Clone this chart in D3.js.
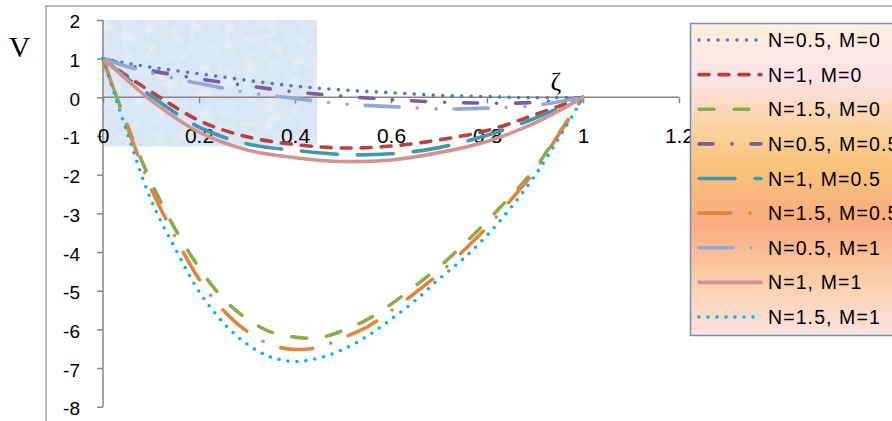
<!DOCTYPE html>
<html>
<head>
<meta charset="utf-8">
<script src="https://cdn.jsdelivr.net/npm/d3@7.9.0/dist/d3.min.js"></script>
<style>
  body { margin: 0; background: #fff; }
  svg { display: block; }
</style>
</head>
<body>
<div id="chart"></div>
<script>
// zeta positions used for the N=0.5 and N=1 curves
const zetaA = [0, 0.05, 0.1, 0.2, 0.3, 0.4, 0.5, 0.6, 0.7, 0.8, 0.9, 1];
// zeta positions used for the N=1.5 curves
const zetaB = [0, 0.05, 0.1, 0.15, 0.2, 0.25, 0.3, 0.35, 0.4, 0.45, 0.5,
               0.55, 0.6, 0.65, 0.7, 0.75, 0.8, 0.85, 0.9, 0.95, 1];

const vN05M0  = [1, 0.88, 0.78, 0.61, 0.44, 0.29, 0.19, 0.12, 0.05, 0.02, -0.01, 0];
const vN1M0   = [1, 0.55, 0.15, -0.6, -1.02, -1.22, -1.31, -1.26, -1.1, -0.86, -0.45, 0];
const vN15M0  = [1, -0.7, -2.18, -3.4, -4.4, -5.2, -5.73, -6.07, -6.2, -6.22, -6.03,
                 -5.75, -5.35, -4.88, -4.39, -3.82, -3.2, -2.55, -1.84, -0.92, 0];
const vN05M05 = [1, 0.84, 0.69, 0.48, 0.3, 0.14, 0.03, -0.06, -0.12, -0.15, -0.13, 0];
const vN1M05  = [1, 0.5, 0.04, -0.77, -1.2, -1.37, -1.48, -1.46, -1.3, -0.98, -0.54, 0];
const vN15M05 = [1, -0.75, -2.35, -3.6, -4.7, -5.5, -6.05, -6.4, -6.52, -6.46, -6.22,
                 -5.94, -5.52, -5.06, -4.56, -3.98, -3.36, -2.65, -1.9, -0.95, 0];
const vN05M1  = [1, 0.8, 0.63, 0.36, 0.13, -0.03, -0.17, -0.24, -0.3, -0.28, -0.21, 0];
const vN1M1   = [1, 0.45, -0.08, -0.9, -1.36, -1.56, -1.66, -1.62, -1.43, -1.14, -0.66, 0];
const vN15M1  = [1, -0.9, -2.65, -3.9, -5.02, -5.82, -6.38, -6.72, -6.83, -6.74, -6.52,
                 -6.18, -5.74, -5.26, -4.7, -4.18, -3.57, -2.85, -2.02, -1.05, 0];

const seriesNames = ["N=0.5, M=0", "N=1, M=0", "N=1.5, M=0",
                     "N=0.5, M=0.5", "N=1, M=0.5", "N=1.5, M=0.5",
                     "N=0.5, M=1", "N=1, M=1", "N=1.5, M=1"];

const xTicks = [0, 0.2, 0.4, 0.6, 0.8, 1, 1.2];
const yTicks = [2, 1, 0, -1, -2, -3, -4, -5, -6, -7, -8];

const series = [
  { name: seriesNames[0], x: zetaA, v: vN05M0,  color: "#4a7dbd", dash: "0,9.5" },
  { name: seriesNames[1], x: zetaA, v: vN1M0,   color: "#b8403d", dash: "10,10" },
  { name: seriesNames[2], x: zetaB, v: vN15M0,  color: "#8cac4c", dash: "15,20" },
  { name: seriesNames[3], x: zetaA, v: vN05M05, color: "#7a5c9e", dash: "14,19,0,19" },
  { name: seriesNames[4], x: zetaA, v: vN1M05,  color: "#4097b0", dash: "36,20" },
  { name: seriesNames[5], x: zetaB, v: vN15M05, color: "#e2843c", dash: "32,19,0,19" },
  { name: seriesNames[6], x: zetaA, v: vN05M1,  color: "#90aad4", dash: "34,18,0,19,0,18" },
  { name: seriesNames[7], x: zetaA, v: vN1M1,   color: "#d39392", dash: null },
  { name: seriesNames[8], x: zetaB, v: vN15M1,  color: "#0db0ee", dash: "0,9" }
];

const W = 892, H = 421;
const svg = d3.select("#chart").append("svg")
  .attr("width", W).attr("height", H);

const xScale = d3.scaleLinear().domain([0, 1.2]).range([103, 679]);
const yScale = d3.scaleLinear().domain([-8, 2]).range([406.7, 20]);

const defs = svg.append("defs");

// outer chart frame
svg.append("rect")
  .attr("x", 46).attr("y", 6).attr("width", 1000).attr("height", 500)
  .attr("fill", "none").attr("stroke", "#a0a0a0").attr("stroke-width", 1.5);

// light blue picture patch behind the top-left of the plot, with a mottled look
const noise = defs.append("filter").attr("id", "mottle")
  .attr("x", 0).attr("y", 0).attr("width", 1).attr("height", 1);
noise.append("feTurbulence").attr("type", "fractalNoise")
  .attr("baseFrequency", 0.09).attr("numOctaves", 3).attr("seed", 4);
noise.append("feColorMatrix").attr("type", "matrix")
  .attr("values", "0 0 0 0 1  0 0 0 0 1  0 0 0 0 1  0 0 0 1.6 -0.7");
noise.append("feComposite").attr("in2", "SourceGraphic").attr("operator", "in");

const patch = {
  x: xScale(0), y: yScale(2),
  w: xScale(0.446) - xScale(0), h: yScale(-1.27) - yScale(2)
};
svg.append("rect")
  .attr("x", patch.x).attr("y", patch.y).attr("width", patch.w).attr("height", patch.h)
  .attr("fill", "#d9e5f4");
svg.append("rect")
  .attr("x", patch.x).attr("y", patch.y).attr("width", patch.w).attr("height", patch.h)
  .attr("fill", "#fff").attr("filter", "url(#mottle)").attr("opacity", 0.55);

const axisColor = "#868686";

// y axis
const yAxis = svg.append("g")
  .attr("transform", `translate(${xScale(0)},0)`)
  .call(d3.axisLeft(yScale).tickValues(yTicks).tickSize(6).tickPadding(17)
        .tickFormat(d => String(d)));
yAxis.select(".domain").attr("stroke", axisColor).attr("stroke-width", 1.5)
  .attr("d", `M0,${yScale(2)}V${yScale(-8)}`);
yAxis.selectAll(".tick line").attr("stroke", axisColor).attr("stroke-width", 1.5);
yAxis.selectAll(".tick text")
  .attr("fill", "#000").attr("font-family", "Liberation Sans, Arial, sans-serif")
  .attr("font-size", 19).attr("dy", "0.42em");

// x axis crossing at V = 0
const xAxis = svg.append("g")
  .attr("transform", `translate(0,${yScale(0)})`)
  .call(d3.axisBottom(xScale).tickValues(xTicks).tickSize(6).tickPadding(0)
        .tickFormat(d => String(d)));
xAxis.select(".domain").attr("stroke", axisColor).attr("stroke-width", 1.5)
  .attr("d", `M${xScale(0)},0H${xScale(1.2)}`);
xAxis.selectAll(".tick line").attr("stroke", axisColor).attr("stroke-width", 1.5);
xAxis.selectAll(".tick text")
  .attr("fill", "#000").attr("font-family", "Liberation Sans, Arial, sans-serif")
  .attr("font-size", 21).attr("dy", null).attr("y", 46);

// axis titles
svg.append("text")
  .attr("x", 19.5).attr("y", 56.5).attr("text-anchor", "middle")
  .attr("font-family", "Liberation Serif, Times New Roman, serif")
  .attr("font-size", 30).text("V");
svg.append("text")
  .attr("x", 556).attr("y", 90).attr("text-anchor", "middle")
  .attr("font-family", "Liberation Serif, Times New Roman, serif")
  .attr("font-size", 26).text("ζ");

// curves
const line = d3.line()
  .x(d => xScale(d[0]))
  .y(d => yScale(d[1]))
  .curve(d3.curveCatmullRom.alpha(0.5));

const curves = svg.append("g").attr("fill", "none");
series.forEach(s => {
  curves.append("path")
    .datum(s.x.map((x, i) => [x, s.v[i]]))
    .attr("d", line)
    .attr("stroke", s.color)
    .attr("stroke-width", 3.6)
    .attr("stroke-linecap", "round")
    .attr("stroke-linejoin", "round")
    .attr("stroke-dasharray", s.dash);
});

// legend
const grad = defs.append("linearGradient").attr("id", "legendFill")
  .attr("x1", 0).attr("y1", 0).attr("x2", 0).attr("y2", 1);
[[0, "#fdeedc"], [0.17, "#fde3ea"], [0.34, "#fbd29e"], [0.46, "#f9c27b"],
 [0.64, "#f9ac7e"], [0.84, "#fbd0ae"], [1, "#fde2e0"]].forEach(([o, c]) =>
  grad.append("stop").attr("offset", o).attr("stop-color", c));

const legend = svg.append("g");
legend.append("rect")
  .attr("x", 690.5).attr("y", 23.5).attr("width", 260).attr("height", 312)
  .attr("fill", "url(#legendFill)").attr("stroke", "#6a8fc8").attr("stroke-width", 1.5);

const rowY = d3.scaleLinear().domain([0, 8]).range([40, 317]);
series.forEach((s, i) => {
  const y = rowY(i);
  legend.append("line")
    .attr("x1", 699).attr("x2", 761).attr("y1", y).attr("y2", y)
    .attr("stroke", s.color).attr("stroke-width", 3.6)
    .attr("stroke-linecap", "round")
    .attr("stroke-dasharray", s.dash);
  legend.append("text")
    .attr("x", 768).attr("y", y).attr("dy", "0.36em")
    .attr("font-family", "Liberation Sans, Arial, sans-serif")
    .attr("font-size", 19.5).attr("letter-spacing", 1.1)
    .text(s.name);
});
</script>
</body>
</html>
